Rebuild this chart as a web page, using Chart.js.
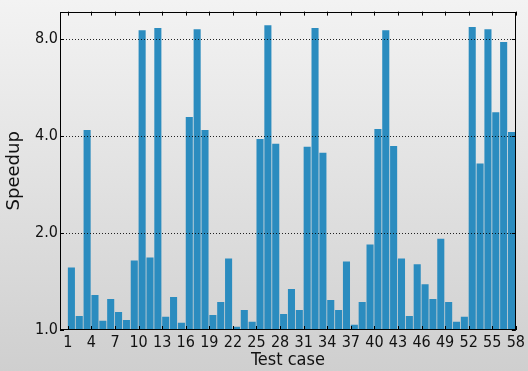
<!DOCTYPE html>
<html>
<head>
<meta charset="utf-8">
<script src="https://cdn.jsdelivr.net/npm/chart.js@4/dist/chart.umd.min.js"></script>
<style>
html,body{margin:0;padding:0;}
body{width:528px;height:371px;background:linear-gradient(to bottom,#f3f3f3 0%,#cfcfcf 100%);overflow:hidden;}
canvas{display:block;}
</style>
</head>
<body>
<canvas id="c" width="528" height="371"></canvas>
<script>
const caseNumbers = [1,2,3,4,5,6,7,8,9,10,11,12,13,14,15,16,17,18,19,20,21,22,23,24,25,26,27,28,29,30,31,32,33,34,35,36,37,38,39,40,41,42,43,44,45,46,47,48,49,50,51,52,53,54,55,56,57];
const speedups = [1.565,1.106,4.18,1.284,1.068,1.248,1.138,1.075,1.644,8.54,1.68,8.67,1.099,1.266,1.053,4.59,8.6,4.18,1.114,1.222,1.668,1.024,1.154,1.061,3.92,8.85,3.79,1.122,1.34,1.154,3.71,8.67,3.55,1.239,1.154,1.633,1.038,1.222,1.842,4.21,8.54,3.73,1.668,1.106,1.599,1.388,1.248,1.921,1.222,1.061,1.099,8.73,3.29,8.6,4.75,7.85,4.12];
const xTickLabels = [1,4,7,10,13,16,19,22,25,28,31,34,37,40,43,46,49,52,55,58];
const yTickValues = [1,2,4,8];

const HALF = 0.45; // half of bar width in data units (ticks sit at bar left edge)
const FONT = "'DejaVu Sans', sans-serif";
const FONT_C = "'DejaVu Sans Condensed', 'DejaVu Sans', sans-serif";

const framePlugin = {
  id: 'frame',
  afterDatasetsDraw(chart) {
    const {ctx, chartArea: a, scales: {x, y}} = chart;
    ctx.save();
    ctx.lineWidth = 1;
    ctx.strokeStyle = 'rgba(0,0,0,0.85)';
    ctx.setLineDash([1, 2]);
    y.ticks.forEach(t => {
      if (t.value <= y.min) return;
      const py = Math.round(y.getPixelForValue(t.value)) + 0.5;
      ctx.beginPath(); ctx.moveTo(a.left, py); ctx.lineTo(a.right, py); ctx.stroke();
    });
    ctx.setLineDash([]);
    ctx.strokeStyle = '#000';
    const L = 4;
    x.ticks.forEach(t => {
      const px = Math.round(x.getPixelForValue(t.value)) + 0.5;
      ctx.beginPath();
      ctx.moveTo(px, a.top); ctx.lineTo(px, a.top + L);
      ctx.moveTo(px, a.bottom); ctx.lineTo(px, a.bottom - L);
      ctx.stroke();
    });
    y.ticks.forEach(t => {
      const py = Math.round(y.getPixelForValue(t.value)) + 0.5;
      ctx.beginPath();
      ctx.moveTo(a.left, py); ctx.lineTo(a.left + L, py);
      ctx.moveTo(a.right, py); ctx.lineTo(a.right - L, py);
      ctx.stroke();
    });
    ctx.strokeRect(Math.round(a.left) + 0.5, Math.round(a.top) + 0.5, Math.round(a.right - a.left) - 1, Math.round(a.bottom - a.top) - 1);
    ctx.restore();
  }
};

new Chart(document.getElementById('c'), {
  type: 'bar',
  data: {
    datasets: [{
      data: caseNumbers.map((n, i) => ({x: n, y: speedups[i]})),
      backgroundColor: '#2b8cbf',
      borderWidth: 0,
      barPercentage: 0.9,
      categoryPercentage: 1.0
    }]
  },
  options: {
    responsive: false,
    animation: false,
    devicePixelRatio: 1,
    layout: {padding: {top: 8, right: 11, left: 0, bottom: 0}},
    plugins: {legend: {display: false}, tooltip: {enabled: false}},
    scales: {
      x: {
        type: 'linear',
        offset: false,
        min: 1 - 1 - HALF,
        max: 58 - HALF,
        grid: {display: false, drawTicks: false},
        border: {display: false},
        afterBuildTicks: s => { s.ticks = xTickLabels.map(v => ({value: v - HALF})); },
        afterFit: s => { s.height = 41; },
        ticks: {
          autoSkip: false,
          maxRotation: 0,
          padding: 3,
          color: '#111',
          font: {family: FONT_C, size: 16},
          callback: v => String(Math.round(v + HALF))
        },
        title: {display: true, text: 'Test case', color: '#111', font: {family: FONT_C, size: 18}, padding: {top: 0, bottom: 0}}
      },
      y: {
        type: 'logarithmic',
        min: 1,
        max: 9.75,
        grid: {display: false, drawTicks: false},
        border: {display: false},
        afterBuildTicks: s => { s.ticks = yTickValues.map(v => ({value: v})); },
        afterFit: s => { s.width = 60; },
        ticks: {
          autoSkip: false,
          padding: 2,
          color: '#111',
          font: {family: FONT_C, size: 16},
          callback: v => Number(v).toFixed(1)
        },
        title: {display: true, text: 'Speedup', color: '#111', font: {family: FONT, size: 18}, padding: {top: 4, bottom: 0}}
      }
    }
  },
  plugins: [framePlugin]
});
</script>
</body>
</html>
